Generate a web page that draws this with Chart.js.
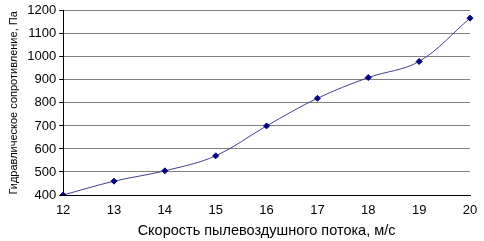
<!DOCTYPE html>
<html>
<head>
<meta charset="utf-8">
<script src="https://cdn.jsdelivr.net/npm/chart.js@4"></script>
<style>
  html, body { margin: 0; padding: 0; background: #fff; }
  #wrap { width: 484px; height: 241px; }
</style>
</head>
<body>
<div id="wrap"><canvas id="chart" width="484" height="241"></canvas></div>
<script>
// speed of dust-air flow, m/s
var speeds = ['12', '13', '14', '15', '16', '17', '18', '19', '20'];
// hydraulic resistance, Pa
var resistance = [400, 460, 505, 570, 700, 820, 910, 980, 1168];
var yTicks = [400, 500, 600, 700, 800, 900, 1000, 1100, 1200];

var fontFam = '"Liberation Sans", Arial, sans-serif';

var ctx = document.getElementById('chart').getContext('2d');
var myChart = new Chart(ctx, {
  type: 'line',
  data: {
    labels: speeds,
    datasets: [{
      data: resistance,
      borderColor: '#40408f',
      borderWidth: 1,
      tension: 0.35,
      pointStyle: 'rectRot',
      pointRadius: 3,
      pointBackgroundColor: '#000080',
      pointBorderColor: '#000080',
      pointBorderWidth: 1
    }]
  },
  options: {
    responsive: false,
    animation: false,
    layout: { padding: { left: 7, right: 14, top: 2, bottom: 0 } },
    plugins: { legend: { display: false }, tooltip: { enabled: false } },
    scales: {
      x: {
        offset: false,
        grid: { display: false, drawOnChartArea: false, tickLength: 5, tickColor: '#000' },
        border: { color: '#000', width: 1 },
        ticks: { color: '#000', font: { family: fontFam, size: 13 }, padding: 3, maxRotation: 0 },
        title: { display: true, text: 'Скорость пылевоздушного потока, м/с', color: '#000', font: { family: fontFam, size: 14.5 }, padding: { top: 1, bottom: 1 } }
      },
      y: {
        min: 400,
        max: 1200,
        afterBuildTicks: function (axis) {
          axis.ticks = yTicks.map(function (v) { return { value: v }; });
        },
        grid: { color: '#808080', lineWidth: 1, tickLength: 4, tickColor: '#000' },
        border: { color: '#000', width: 1 },
        ticks: {
          color: '#000', font: { family: fontFam, size: 13 }, padding: 3,
          callback: function (v) { return String(v); }
        },
        title: { display: true, text: 'Гидравлическое сопротивление, Па', color: '#000', font: { family: fontFam, size: 11 }, padding: { top: 0, bottom: 4 } }
      }
    }
  }
});
</script>
</body>
</html>
